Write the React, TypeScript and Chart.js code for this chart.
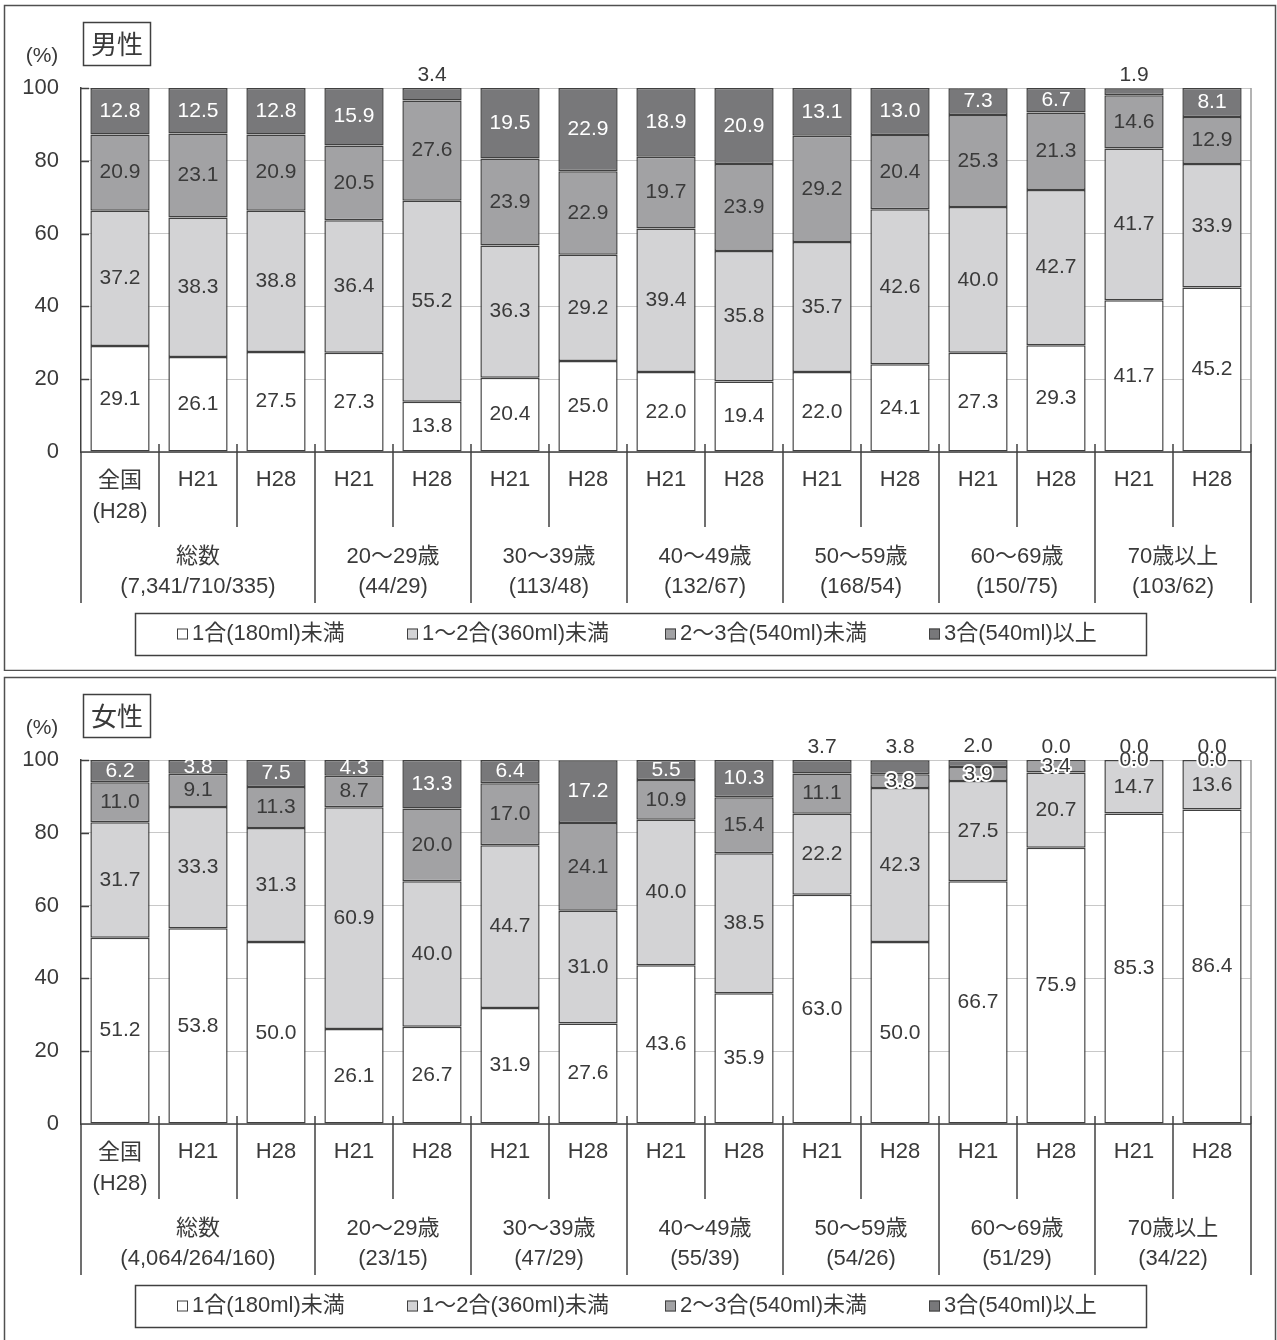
import React, { useEffect, useRef } from 'react';
import { Chart, registerables } from 'chart.js';

Chart.register(...registerables);

// ---------------- data ----------------
const categoryLabels = ['全国\n(H28)', 'H21', 'H28', 'H21', 'H28', 'H21', 'H28', 'H21', 'H28', 'H21', 'H28', 'H21', 'H28', 'H21', 'H28'];
const seriesNames = ['1合(180ml)未満', '1～2合(360ml)未満', '2～3合(540ml)未満', '3合(540ml)以上'];
const yTicks = [0, 20, 40, 60, 80, 100];
const groupSpans = [[0, 2], [3, 4], [5, 6], [7, 8], [9, 10], [11, 12], [13, 14]];
const ageGroups = ['総数', '20～29歳', '30～39歳', '40～49歳', '50～59歳', '60～69歳', '70歳以上'];
const maleCounts = ['(7,341/710/335)', '(44/29)', '(113/48)', '(132/67)', '(168/54)', '(150/75)', '(103/62)'];
const femaleCounts = ['(4,064/264/160)', '(23/15)', '(47/29)', '(55/39)', '(54/26)', '(51/29)', '(34/22)'];

const maleUnder1 = [29.1, 26.1, 27.5, 27.3, 13.8, 20.4, 25.0, 22.0, 19.4, 22.0, 24.1, 27.3, 29.3, 41.7, 45.2];
const maleOneTwo = [37.2, 38.3, 38.8, 36.4, 55.2, 36.3, 29.2, 39.4, 35.8, 35.7, 42.6, 40.0, 42.7, 41.7, 33.9];
const maleTwoThree = [20.9, 23.1, 20.9, 20.5, 27.6, 23.9, 22.9, 19.7, 23.9, 29.2, 20.4, 25.3, 21.3, 14.6, 12.9];
const maleOver3 = [12.8, 12.5, 12.8, 15.9, 3.4, 19.5, 22.9, 18.9, 20.9, 13.1, 13.0, 7.3, 6.7, 1.9, 8.1];

const femaleUnder1 = [51.2, 53.8, 50.0, 26.1, 26.7, 31.9, 27.6, 43.6, 35.9, 63.0, 50.0, 66.7, 75.9, 85.3, 86.4];
const femaleOneTwo = [31.7, 33.3, 31.3, 60.9, 40.0, 44.7, 31.0, 40.0, 38.5, 22.2, 42.3, 27.5, 20.7, 14.7, 13.6];
const femaleTwoThree = [11.0, 9.1, 11.3, 8.7, 20.0, 17.0, 24.1, 10.9, 15.4, 11.1, 3.8, 3.9, 3.4, 0.0, 0.0];
const femaleOver3 = [6.2, 3.8, 7.5, 4.3, 13.3, 6.4, 17.2, 5.5, 10.3, 3.7, 3.8, 2.0, 0.0, 0.0, 0.0];

// label placement (which top-segment labels sit above the bar)
const maleOutside = [4, 13];
const femaleOutside = [9, 10, 11, 12, 13, 14];

// ---------------- styles ----------------
const W = 1277;
const H = 671;
const PLOT_TOP = 88;
const PLOT_LEFT = 81;
const PLOT_RIGHT = 1251;
const PLOT_BOTTOM = 452;
const FILL = ['#ffffff', '#d3d3d5', '#a2a2a4', '#78787a'];
const BORDER = '#404040';
const TEXT = '#3a3a3a';
const FONT_FAMILY = '"Liberation Sans", Arial, "Noto Sans CJK JP", sans-serif';
const font = (size: number) => `${size}px ${FONT_FAMILY}`;

function makeDecorPlugin(title: string, counts: string[], outside: number[]) {
  return {
    id: 'decor',
    afterDraw(chart: any) {
      const ctx: CanvasRenderingContext2D = chart.ctx;
      const area = chart.chartArea;
      const yScale = chart.scales.y;
      const n = categoryLabels.length;
      const catW = (area.right - area.left) / n;
      const axisY = area.bottom;
      ctx.save();

      // panel border
      ctx.strokeStyle = '#505050';
      ctx.lineWidth = 1.5;
      ctx.strokeRect(4.5, 5.5, 1271, 665);

      // title box
      ctx.strokeStyle = '#404040';
      ctx.lineWidth = 1.5;
      ctx.strokeRect(83.5, 22.5, 67, 43);
      ctx.fillStyle = TEXT;
      ctx.font = `26px "Noto Sans CJK JP", sans-serif`;
      ctx.textAlign = 'center';
      ctx.textBaseline = 'middle';
      ctx.fillText(title, 117, 44);

      // (%)
      ctx.font = font(21);
      ctx.fillText('(%)', 42, 56);

      // inner y tick marks
      ctx.strokeStyle = BORDER;
      ctx.lineWidth = 1.5;
      yTicks.forEach((v) => {
        if (v === 0) return;
        const y = Math.round(yScale.getPixelForValue(v)) + 0.5;
        ctx.beginPath();
        ctx.moveTo(area.left, y);
        ctx.lineTo(area.left + 8, y);
        ctx.stroke();
      });

      // right plot border
      ctx.strokeStyle = '#9a9a9a';
      ctx.lineWidth = 1.5;
      ctx.beginPath();
      ctx.moveTo(area.right, area.top);
      ctx.lineTo(area.right, axisY);
      ctx.stroke();

      // x axis line
      ctx.strokeStyle = BORDER;
      ctx.lineWidth = 1.5;
      ctx.beginPath();
      ctx.moveTo(area.left, axisY);
      ctx.lineTo(area.right, axisY);
      ctx.stroke();

      // separators
      const longB = new Set<number>([0, n]);
      groupSpans.forEach(([s]) => longB.add(s));
      for (let b = 0; b <= n; b++) {
        const x = area.left + b * catW;
        const isLong = longB.has(b);
        ctx.beginPath();
        ctx.moveTo(x, b === 0 ? axisY : axisY - 8);
        ctx.lineTo(x, axisY + (isLong ? 151 : 75));
        ctx.stroke();
      }

      // category labels
      ctx.fillStyle = TEXT;
      ctx.font = font(22);
      ctx.textAlign = 'center';
      ctx.textBaseline = 'middle';
      categoryLabels.forEach((lab, i) => {
        const x = area.left + (i + 0.5) * catW;
        const lines = lab.split('\n');
        if (lines.length === 1) {
          ctx.fillText(lines[0], x, axisY + 28);
        } else {
          lines.forEach((ln, k) => ctx.fillText(ln, x, axisY + 29 + k * 31));
        }
      });

      // group labels
      groupSpans.forEach(([s, e], g) => {
        const x = area.left + ((s + e + 1) / 2) * catW;
        ctx.fillText(ageGroups[g], x, axisY + 105);
        ctx.fillText(counts[g], x, axisY + 135);
      });

      // legend
      ctx.strokeStyle = BORDER;
      ctx.lineWidth = 1.5;
      ctx.strokeRect(135.5, axisY + 161.5, 1011, 42);
      const markerX = [177, 407, 665, 929];
      const ly = axisY + 182;
      seriesNames.forEach((name, k) => {
        ctx.fillStyle = FILL[k];
        ctx.fillRect(markerX[k], ly - 5.5, 11, 11);
        ctx.strokeStyle = BORDER;
        ctx.lineWidth = 1;
        ctx.strokeRect(markerX[k] + 0.5, ly - 5, 10, 10);
        ctx.fillStyle = TEXT;
        ctx.textAlign = 'left';
        ctx.font = font(22);
        ctx.fillText(name, markerX[k] + 15, ly);
      });

      // data labels
      ctx.textAlign = 'center';
      ctx.textBaseline = 'middle';
      ctx.font = font(21);
      const nds = chart.data.datasets.length;
      for (let di = 0; di < nds; di++) {
        const meta = chart.getDatasetMeta(di);
        meta.data.forEach((el: any, i: number) => {
          const v = chart.data.datasets[di].data[i] as number;
          const txt = v.toFixed(1);
          let ty = (el.y + el.base) / 2;
          let color = di === nds - 1 ? '#ffffff' : TEXT;
          let halo = false;
          if (di === nds - 1 && outside.includes(i)) {
            ty = el.y - 13;
            color = TEXT;
          } else if (di < nds - 1 && v < 5) {
            halo = true;
          }
          if (halo) {
            ctx.strokeStyle = '#ffffff';
            ctx.lineWidth = 4;
            ctx.lineJoin = 'round';
            ctx.strokeText(txt, el.x, ty);
          }
          ctx.fillStyle = color;
          ctx.fillText(txt, el.x, ty);
        });
      }
      ctx.restore();
    },
  };
}

function Panel(props: { title: string; series: number[][]; counts: string[]; outside: number[]; top: number }) {
  const ref = useRef<HTMLCanvasElement>(null);
  useEffect(() => {
    const canvas = ref.current!;
    const chart = new Chart(canvas, {
      type: 'bar',
      data: {
        labels: categoryLabels,
        datasets: props.series.map((d, k) => ({
          label: seriesNames[k],
          data: d,
          backgroundColor: FILL[k],
          borderColor: BORDER,
          borderWidth: 1.5,
          borderSkipped: false,
          barPercentage: 0.76,
          categoryPercentage: 1,
        })),
      },
      options: {
        responsive: false,
        animation: false,
        devicePixelRatio: 1,
        layout: { padding: { top: PLOT_TOP, left: 0, right: W - PLOT_RIGHT, bottom: 0 } },
        plugins: { legend: { display: false }, tooltip: { enabled: false } },
        scales: {
          x: {
            stacked: true,
            grid: { display: false },
            border: { display: false },
            ticks: { display: false },
            afterFit: (s: any) => {
              s.height = H - PLOT_BOTTOM;
            },
          },
          y: {
            stacked: true,
            min: 0,
            max: 100,
            afterBuildTicks: (s: any) => {
              s.ticks = yTicks.map((v) => ({ value: v }));
            },
            ticks: { padding: 22, color: TEXT, font: { family: FONT_FAMILY, size: 22 } },
            grid: { color: '#c8c8c8', lineWidth: 1, drawTicks: false },
            border: { display: true, color: BORDER, width: 1.5 },
            afterFit: (s: any) => {
              s.width = PLOT_LEFT;
            },
          },
        },
      } as any,
      plugins: [makeDecorPlugin(props.title, props.counts, props.outside)],
    });
    return () => chart.destroy();
  }, []);
  return (
    <canvas
      ref={ref}
      width={W}
      height={H}
      style={{ position: 'absolute', left: 0, top: props.top, width: W, height: H }}
    />
  );
}

export default function App() {
  return (
    <div style={{ position: 'absolute', left: 0, top: 0, width: W, height: 1340, overflow: 'hidden', background: '#fff' }}>
      <Panel title="男性" series={[maleUnder1, maleOneTwo, maleTwoThree, maleOver3]} counts={maleCounts} outside={maleOutside} top={0} />
      <Panel title="女性" series={[femaleUnder1, femaleOneTwo, femaleTwoThree, femaleOver3]} counts={femaleCounts} outside={femaleOutside} top={672} />
    </div>
  );
}
